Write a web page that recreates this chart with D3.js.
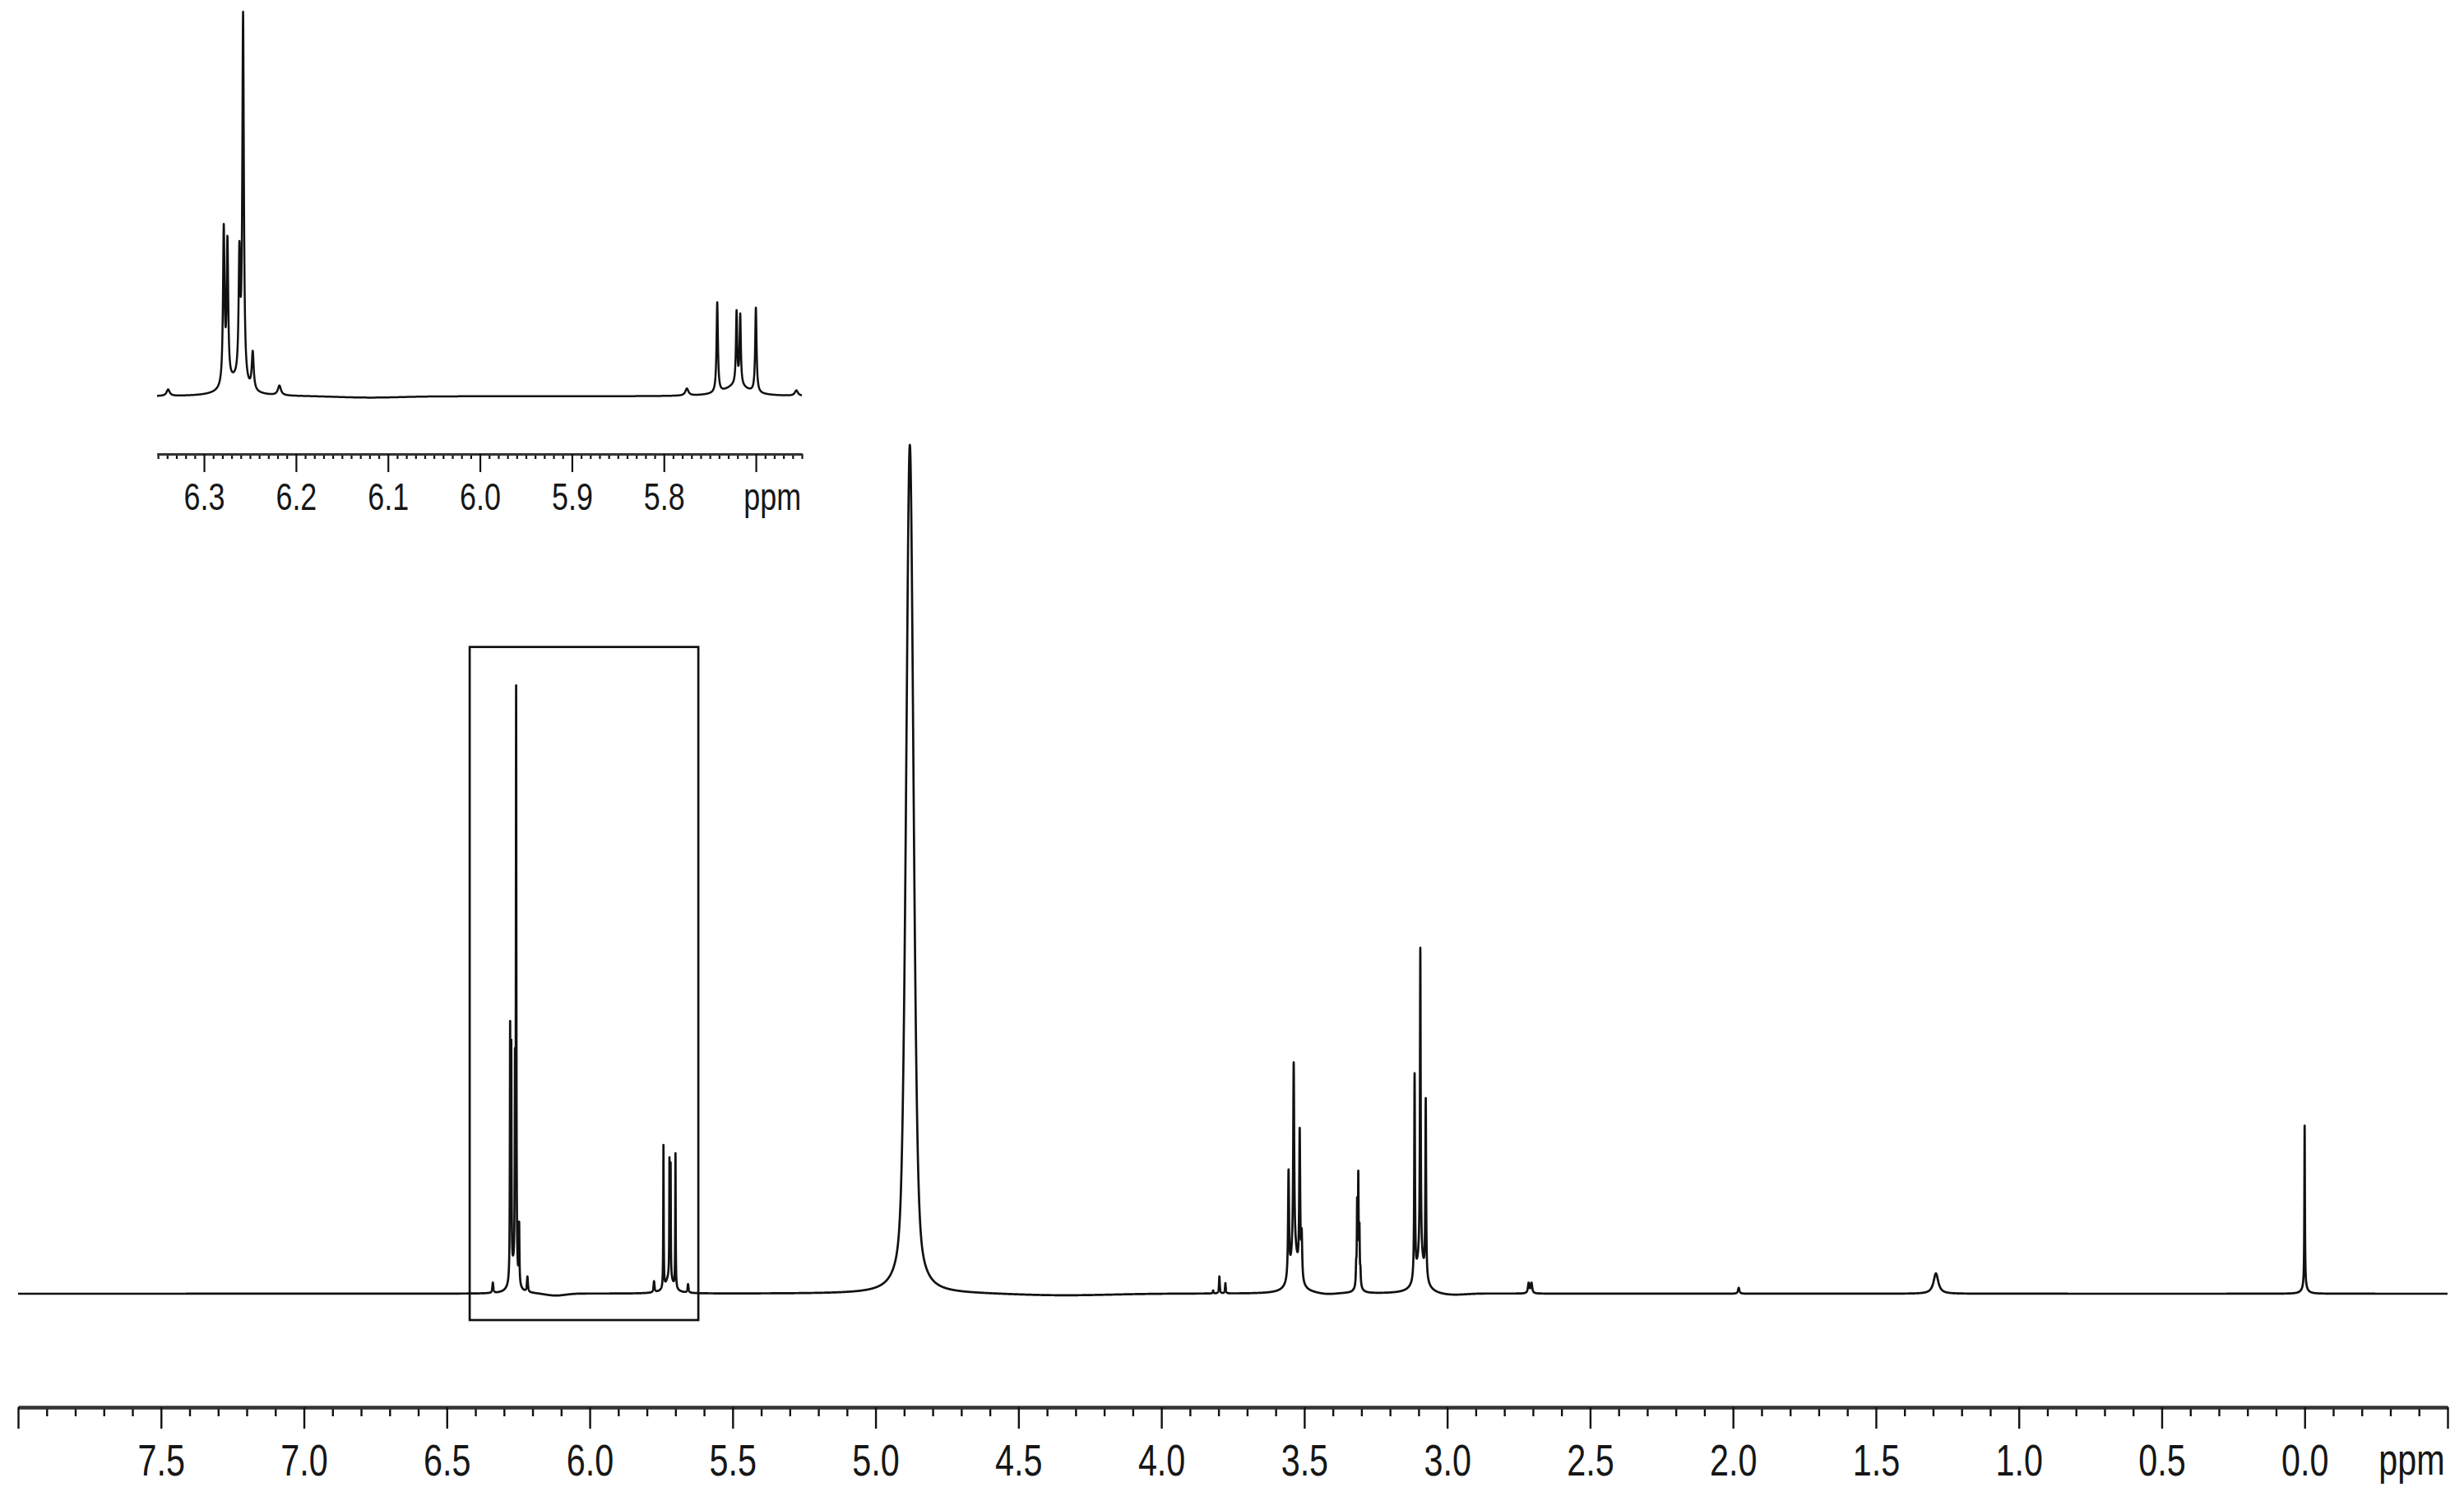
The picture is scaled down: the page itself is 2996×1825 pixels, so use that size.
<!DOCTYPE html>
<html>
<head>
<meta charset="utf-8">
<script src="https://cdn.jsdelivr.net/npm/d3@7/dist/d3.min.js"></script>
<style>
  html, body { margin: 0; padding: 0; background: #fff; }
  svg { display: block; }
  .lbl { font-family: 'Liberation Sans', Arial, sans-serif; fill: #161616; }
</style>
</head>
<body>
<svg id="chart" width="2996" height="1825"></svg>
<script>
// ---------- DATA ----------
// 1H NMR peak list: chemical shift (ppm), intensity (water peak = 100), line width FWHM (ppm), Lorentzian fraction
const peakShifts  = [6.339, 6.2785, 6.2745, 6.2615, 6.2575, 6.247, 6.218, 6.267,
                     5.775, 5.742, 5.721, 5.717, 5.700, 5.656, 5.721,
                     4.880,
                     3.819, 3.797, 3.776,
                     3.555, 3.537, 3.516, 3.509, 3.535,
                     3.3185, 3.315, 3.311, 3.307, 3.3035, 3.311,
                     3.114, 3.094, 3.075, 3.094,
                     2.715, 2.705, 1.98, 1.29, 0.000, 0.000,
                     6.12, 4.35, 3.42, 2.99];
const peakHeights = [1.2, 29, 26, 22.5, 68.5, 7, 1.8, 2.5,
                     1.3, 16.8, 13.5, 13, 15.8, 1.0, 2.0,
                     100,
                     0.35, 2.0, 1.2,
                     12.5, 22, 17, 5, 5,
                     2, 9, 12, 6, 1.5, 1,
                     24, 36.5, 21, 4,
                     1.2, 1.2, 0.7, 2.4, 19, 0.8,
                     -0.25, -0.22, -0.15, -0.22];
const peakWidths  = [0.004, 0.002, 0.002, 0.002, 0.002, 0.0025, 0.004, 0.025,
                     0.004, 0.0018, 0.0016, 0.0016, 0.0018, 0.004, 0.03,
                     0.031,
                     0.003, 0.003, 0.003,
                     0.004, 0.004, 0.004, 0.004, 0.03,
                     0.0025, 0.0025, 0.0025, 0.0025, 0.0025, 0.02,
                     0.003, 0.003, 0.003, 0.035,
                     0.006, 0.006, 0.006, 0.02, 0.0022, 0.02,
                     0.08, 0.4, 0.07, 0.12];
const peakLorentz = [1, 1, 1, 1, 1, 1, 1, 1,
                     1, 1, 1, 1, 1, 1, 1,
                     0.45,
                     1, 1, 1,
                     1, 1, 1, 1, 1,
                     1, 1, 1, 1, 1, 1,
                     1, 1, 1, 1,
                     1, 1, 1, 1, 1, 1,
                     0, 0, 0, 0];

// main axis
const mainRange      = [8.0, -0.5];
const mainMajorTicks = [8.0, 7.5, 7.0, 6.5, 6.0, 5.5, 5.0, 4.5, 4.0, 3.5, 3.0, 2.5, 2.0, 1.5, 1.0, 0.5, 0.0, -0.5];
const mainTickLabels = ["", "7.5", "7.0", "6.5", "6.0", "5.5", "5.0", "4.5", "4.0", "3.5", "3.0", "2.5", "2.0", "1.5", "1.0", "0.5", "0.0", ""];
const mainUnitAt     = -0.375;
const mainIntensity  = [0, 100];

// expanded region (inset) and the box marking it on the main spectrum
const insetRange      = [6.351, 5.650];
const insetMajorTicks = [6.3, 6.2, 6.1, 6.0, 5.9, 5.8, 5.7];
const insetTickLabels = ["6.3", "6.2", "6.1", "6.0", "5.9", "5.8", ""];
const insetUnitAt     = 5.682;
const insetIntensity  = [0, 71.4];
const boxPpm          = [6.42, 5.62];
const boxIntensity    = [-3.1, 76.2];
const unitLabel       = "ppm";

// ---------- RENDER ----------
const svg = d3.select("#chart");

function intensityAt(p) {
  let s = 0;
  for (let i = 0; i < peakShifts.length; i++) {
    const d = (p - peakShifts[i]) / peakWidths[i];
    const q = 4 * d * d;
    const L = 1 / (1 + q);
    const G = Math.exp(-Math.LN2 * q);
    const e = peakLorentz[i];
    s += peakHeights[i] * (e * L + (1 - e) * G);
  }
  return s;
}
function sampleSpectrum(from, to, step) {
  const pts = d3.range(to, from, step).concat([from]);
  peakShifts.forEach(c => { if (c <= from && c >= to) pts.push(c); });
  pts.sort((a, b) => b - a);
  return pts.map(p => [p, intensityAt(p)]);
}

// ----- main spectrum -----
const xMain = d3.scaleLinear().domain(mainRange).range([22, 2976]);
const yMain = d3.scaleLinear().domain(mainIntensity).range([1573, 541]);

const mainData = sampleSpectrum(mainRange[0], mainRange[1], 0.0002);
svg.append("path")
  .datum(mainData)
  .attr("fill", "none")
  .attr("stroke", "#111")
  .attr("stroke-width", 2.7)
  .attr("stroke-linejoin", "round")
  .attr("d", d3.line().x(d => xMain(d[0])).y(d => yMain(d[1])));

// box around expanded region
svg.append("rect")
  .attr("x", xMain(boxPpm[0]))
  .attr("y", yMain(boxIntensity[1]))
  .attr("width", xMain(boxPpm[1]) - xMain(boxPpm[0]))
  .attr("height", yMain(boxIntensity[0]) - yMain(boxIntensity[1]))
  .attr("fill", "none")
  .attr("stroke", "#111")
  .attr("stroke-width", 2.7);

// main axis
const mainMinor = d3.range(80, -6, -1).map(v => v / 10).filter(v => Math.abs(v * 2 - Math.round(v * 2)) > 1e-6);
const gMainMinor = svg.append("g").attr("transform", "translate(0,1711)")
  .call(d3.axisBottom(xMain).tickValues(mainMinor).tickSize(11).tickSizeOuter(0).tickFormat(""));
const gMain = svg.append("g").attr("transform", "translate(0,1711)")
  .call(d3.axisBottom(xMain).tickValues(mainMajorTicks).tickSize(26).tickSizeOuter(0).tickPadding(19)
        .tickFormat((d, i) => mainTickLabels[i]));
[gMainMinor, gMain].forEach(g => {
  g.selectAll(".tick line").attr("stroke", "#111").attr("stroke-width", 2.4);
  g.select(".domain").attr("stroke", "#333").attr("stroke-width", 4);
});
gMain.selectAll(".tick text").attr("class", "lbl").attr("font-size", 53)
  .attr("transform", "scale(0.78,1)");
svg.append("g").attr("transform", `translate(${xMain(mainUnitAt)},1793)`)
  .append("text").attr("class", "lbl")
  .attr("text-anchor", "middle").attr("font-size", 53)
  .attr("transform", "scale(0.78,1)")
  .text(unitLabel);

// ----- inset (expanded view of the same spectrum) -----
const xInset = d3.scaleLinear().domain(insetRange).range([191, 975]);
const yInset = d3.scaleLinear().domain(insetIntensity).range([482, 16]);
const insetData = sampleSpectrum(insetRange[0], insetRange[1], 0.00005);
svg.append("path")
  .datum(insetData)
  .attr("fill", "none")
  .attr("stroke", "#111")
  .attr("stroke-width", 2.5)
  .attr("stroke-linejoin", "round")
  .attr("d", d3.line().x(d => xInset(d[0])).y(d => yInset(d[1])));

const insetMinor = d3.range(635, 564, -1).map(v => v / 100).filter(v => Math.abs(v * 10 - Math.round(v * 10)) > 1e-6);
const gInsMinor = svg.append("g").attr("transform", "translate(0,552)")
  .call(d3.axisBottom(xInset).tickValues(insetMinor).tickSize(6).tickSizeOuter(0).tickFormat(""));
const gIns = svg.append("g").attr("transform", "translate(0,552)")
  .call(d3.axisBottom(xInset).tickValues(insetMajorTicks).tickSize(22).tickSizeOuter(0).tickPadding(13)
        .tickFormat((d, i) => insetTickLabels[i]));
[gInsMinor, gIns].forEach(g => {
  g.selectAll(".tick line").attr("stroke", "#111").attr("stroke-width", 2.2);
  g.select(".domain").attr("stroke", "#333").attr("stroke-width", 3.2);
});
gIns.selectAll(".tick text").attr("class", "lbl").attr("font-size", 46)
  .attr("transform", "scale(0.78,1)");
svg.append("g").attr("transform", `translate(${xInset(insetUnitAt)},620)`)
  .append("text").attr("class", "lbl")
  .attr("text-anchor", "middle").attr("font-size", 46)
  .attr("transform", "scale(0.78,1)")
  .text(unitLabel);
</script>
</body>
</html>
